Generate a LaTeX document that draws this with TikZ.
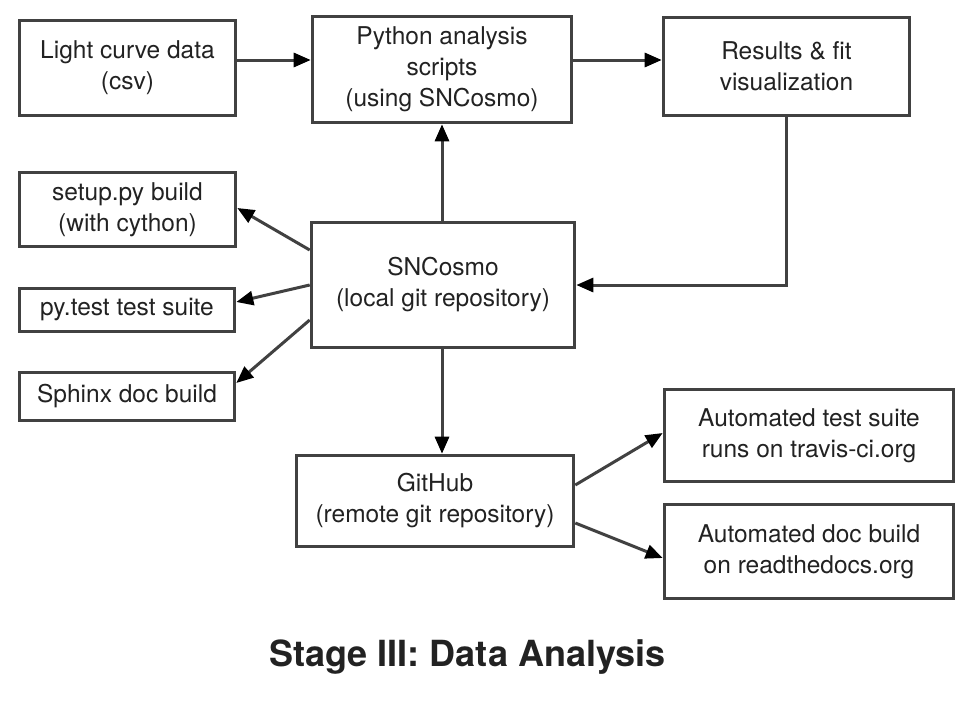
\documentclass[tikz,border=0pt]{standalone}
\usepackage{fontspec}
\setmainfont{TeX Gyre Heros}
\usetikzlibrary{arrows.meta,calc}
\definecolor{edgegray}{HTML}{414141}
\definecolor{txtgray}{HTML}{222222}
\begin{document}
\begin{tikzpicture}[x=1pt,y=-1pt,
  box/.style={draw=edgegray,line width=3.6pt,fill=white,rectangle,inner sep=0pt,align=center,
    text=txtgray,font=\fontsize{24.5}{31}\selectfont},
  arr/.style={draw=edgegray,line width=3pt,-{Triangle[length=17pt,width=14pt,color=black]}}]
\useasboundingbox (0,0) rectangle (975,705);
\fill[white] (0,0) rectangle (975,705);
\node[box,minimum width=216pt,minimum height=95pt] (b1) at (127.5,68) {Light curve data\\(csv)};
\node[box,minimum width=259pt,minimum height=106pt] (b2) at (442,69.5) {Python analysis\\scripts\\(using SNCosmo)};
\node[box,minimum width=246pt,minimum height=98pt] (b3) at (786.5,66.5) {Results \& fit\\visualization};
\node[box,minimum width=216pt,minimum height=74pt] (b4) at (127.5,209.5) {setup.py build\\(with cython)};
\node[box,minimum width=215pt,minimum height=43pt] (b5) at (127,310) {py.test test suite};
\node[box,minimum width=215pt,minimum height=48pt] (b6) at (127,396.5) {Sphinx doc build};
\node[box,minimum width=263pt,minimum height=125pt] (b7) at (443,285) {SNCosmo\\(local git repository)};
\node[box,minimum width=277pt,minimum height=91pt] (b8) at (435,501) {GitHub\\(remote git repository)};
\node[box,minimum width=289pt,minimum height=92pt] (b9) at (809,435.5) {Automated test suite\\runs on travis-ci.org};
\node[box,minimum width=289pt,minimum height=94pt] (b10) at (809,551.5) {Automated doc build\\on readthedocs.org};
\node[text=txtgray,font=\fontsize{36}{40}\bfseries\selectfont] (title) at (467.5,657) {Stage III: Data Analysis};
% connectors
\draw[arr] (b1.east |- 0,60) -- (b2.west |- 0,60);
\draw[arr] (b2.east |- 0,60) -- (b3.west |- 0,60);
\draw[arr] (b2.south |- b7.north) -- (b2.south);
\draw[arr] (b3.south) |- (b7.east);
\draw[arr] (b7.west |- 0,250) -- (b4.east |- 0,208);
\draw[arr] (b7.west |- 0,285) -- (b5.east |- 0,302);
\draw[arr] (b7.west |- 0,320) -- (b6.east |- 0,383);
\draw[arr] (b7.south -| 442,0) -- (b8.north -| 442,0);
\draw[arr] (b8.east |- 0,485) -- (b9.west |- 0,433);
\draw[arr] (b8.east |- 0,523) -- (b10.west |- 0,558);
\end{tikzpicture}
\end{document}
